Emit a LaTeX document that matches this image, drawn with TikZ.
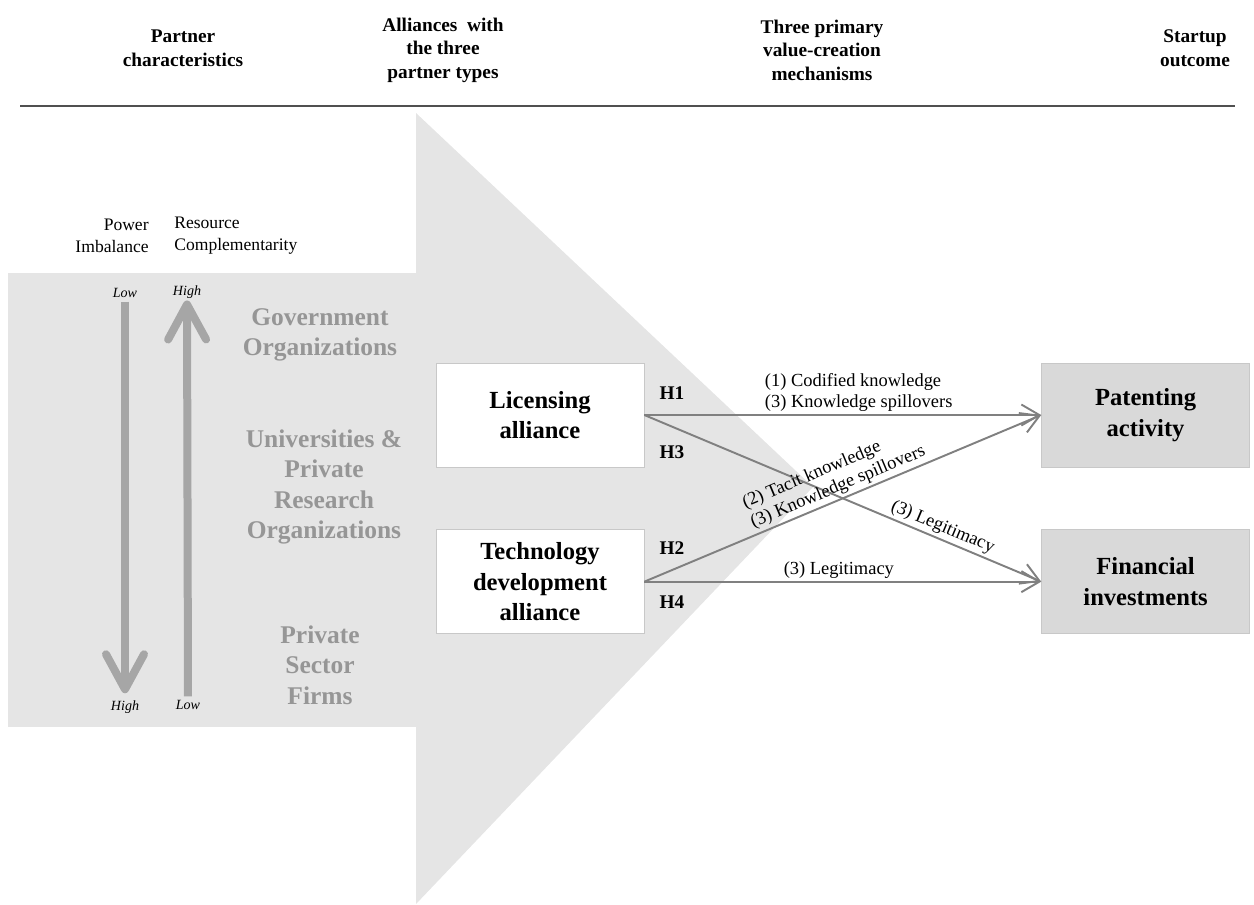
\documentclass[tikz,border=0pt]{standalone}
\usepackage{fontspec}
\setmainfont{Liberation Serif}
\usetikzlibrary{arrows.meta,positioning}
\definecolor{panelgray}{RGB}{229,229,229}
\definecolor{boxgray}{RGB}{217,217,217}
\definecolor{boxedge}{RGB}{200,200,200}
\definecolor{labelgray}{RGB}{150,150,150}
\definecolor{scalegray}{RGB}{166,166,166}
\definecolor{linkgray}{RGB}{128,128,128}
\definecolor{rulegray}{RGB}{80,80,80}
\tikzset{
  headtext/.style={align=center,font=\fontsize{11}{13.4}\selectfont\bfseries},
  headrule/.style={draw=rulegray,line width=1.1pt},
  scalehead/.style={inner sep=0pt,font=\fontsize{10}{12.4}\selectfont},
  scalelbl/.style={inner sep=1pt,font=\fontsize{8}{9}\selectfont\itshape},
  scalearrow/.style={draw=scalegray,line width=0.16cm,
    -{Straight Barb[round,length=0.7cm,width=0.76cm]}},
  partnertype/.style={align=center,text=labelgray,
    font=\fontsize{14.5}{17.4}\selectfont\bfseries},
  alliancebox/.style={rectangle,draw=boxedge,fill=white,minimum width=4.16cm,
    minimum height=2.08cm,align=center,font=\fontsize{14}{17.5}\selectfont\bfseries},
  outcomebox/.style={alliancebox,fill=boxgray},
  hyplink/.style={draw=linkgray,line width=1.1pt,
    -{Straight Barb[length=0.36cm,width=0.42cm]}},
  hyplabel/.style={font=\fontsize{11}{13}\selectfont\bfseries},
  mechlabel/.style={inner sep=1.5pt,align=left,font=\fontsize{10.5}{12}\selectfont},
}
\begin{document}
\begin{tikzpicture}[x=0.02cm,y=-0.02cm]
\useasboundingbox (0,0) rectangle (1254,904);

% ── Background panels ────────────────────────────────────────────────────
\fill[panelgray] (8,273) rectangle (416,727);
\fill[panelgray] (416,113) -- (813,487) -- (416,904) -- cycle;

% ── Column headings ──────────────────────────────────────────────────────
\node[headtext] (hpartner) at (183,48) {Partner\\characteristics};
\node[headtext] (halliance) at (443,50) {Alliances\ \ with\\the three\\partner types};
\node[headtext] (hmech) at (822,50) {Three primary\\value-creation\\mechanisms};
\node[headtext] (houtcome) at (1195,48) {Startup\\outcome};
\draw[headrule] (20,106) -- (1235,106);

% ── Partner characteristics scales ───────────────────────────────────────
\node[scalehead, anchor=east, align=right] (pihead) at (149,236) {Power\\Imbalance};
\node[scalehead, anchor=west, align=left] (rchead) at (174,236) {Resource\\Complementarity};
\node[scalelbl] (pilow)  at (125,293) {Low};
\node[scalelbl] (pihigh) at (125,707) {High};
\node[scalelbl] (rchigh) at (187,292) {High};
\node[scalelbl] (rclow)  at (188,705) {Low};
\draw[scalearrow, shorten <=1pt, shorten >=3pt] (pilow.south) -- (pihigh.north);
\draw[scalearrow, shorten <=1pt] (rclow.north) -- (rchigh.south);

% ── Partner types ────────────────────────────────────────────────────────
\node[partnertype] (gov)  at (320,335) {Government\\Organizations};
\node[partnertype] (univ) at (324,487) {Universities \&\\Private\\Research\\Organizations};
\node[partnertype] (firm) at (320,665) {Private\\Sector\\Firms};

% ── Alliance and outcome boxes ───────────────────────────────────────────
\node[alliancebox] (lic) at (540,415) {Licensing\\alliance};
\node[alliancebox, below=1.24cm of lic] (tech) {Technology\\development\\alliance};
\node[outcomebox, right=7.94cm of lic] (patent) {Patenting\\activity};
\node[outcomebox, below=1.24cm of patent] (fin) {Financial\\investments};

% ── Hypothesised links ───────────────────────────────────────────────────
\draw[hyplink] (lic.east) -- node[mechlabel, above, pos=0.54]
  {(1) Codified knowledge\\(3) Knowledge spillovers} (patent.west);
\draw[hyplink] (lic.east) -- node[mechlabel, sloped, above, pos=0.74]
  {(3) Legitimacy} (fin.west);
\draw[hyplink] (tech.east) -- node[mechlabel, sloped, above, pos=0.5]
  {(2) Tacit knowledge\\(3) Knowledge spillovers} (patent.west);
\draw[hyplink] (tech.east) -- node[mechlabel, above, pos=0.49]
  {(3) Legitimacy} (fin.west);

\node[hyplabel] (h1) at (672,393) {H1};
\node[hyplabel] (h3) at (672,452) {H3};
\node[hyplabel] (h2) at (672,548) {H2};
\node[hyplabel] (h4) at (672,602) {H4};

\end{tikzpicture}
\end{document}
